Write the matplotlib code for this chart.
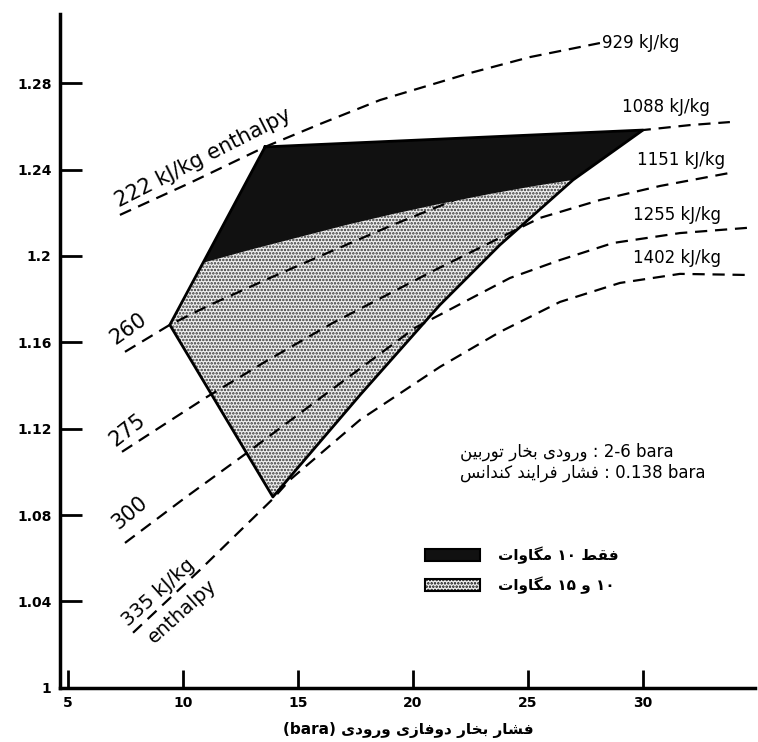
import numpy as np
from matplotlib import pyplot as plt
from matplotlib.patches import Rectangle

# axis ticks
x_ticks = [5, 10, 15, 20, 25, 30]
x_tick_labels = ["5", "10", "15", "20", "25", "30"]
y_ticks = [1.0, 1.04, 1.08, 1.12, 1.16, 1.2, 1.24, 1.28]
y_tick_labels = ["1", "1.04", "1.08", "1.12", "1.16", "1.2", "1.24", "1.28"]

# dashed curves
curve_929_x = [7.26, 10.30, 13.57, 15.96, 18.57, 22.48, 25.09, 28.13]
curve_929_y = [1.2190, 1.2338, 1.2505, 1.2611, 1.2722, 1.2847, 1.2921, 1.2986]
curve_1088_x = [7.48, 9.43, 11.17, 13.78, 16.39, 19.13, 22.04, 25.52, 28.13, 30.00, 32.04, 33.78]
curve_1088_y = [1.1556, 1.1681, 1.1773, 1.1898, 1.2019, 1.2144, 1.2269, 1.2407, 1.2505, 1.2583, 1.2606, 1.2620]
curve_1151_x = [7.35, 9.22, 11.04, 13.78, 16.52, 20.96, 25.52, 28.13, 30.74, 34.00]
curve_1151_y = [1.1093, 1.1222, 1.1347, 1.1523, 1.1690, 1.1935, 1.2176, 1.2259, 1.2324, 1.2389]
curve_1255_x = [7.48, 10.09, 12.78, 16.39, 20.09, 22.48, 24.22, 26.39, 28.70, 31.61, 34.52]
curve_1255_y = [1.0671, 1.0880, 1.1088, 1.1375, 1.1667, 1.1801, 1.1898, 1.1981, 1.2060, 1.2106, 1.2130]
curve_1402_x = [7.83, 10.74, 13.91, 14.65, 17.70, 21.17, 23.78, 26.39, 29.00, 31.61, 34.52]
curve_1402_y = [1.0255, 1.0546, 1.0875, 1.0963, 1.1241, 1.1486, 1.1648, 1.1787, 1.1875, 1.1917, 1.1912]
curve_labels = ["929 kJ/kg", "1088 kJ/kg", "1151 kJ/kg", "1255 kJ/kg", "1402 kJ/kg"]
curve_label_x = [28.2, 29.1, 29.75, 29.55, 29.55]
curve_label_y = [1.2986, 1.2690, 1.2444, 1.2190, 1.1990]

# regions
only10_x = [13.57, 30.00, 26.96, 25.30, 23.35, 21.17, 19.13, 17.13, 15.09, 12.91, 10.87]
only10_y = [1.2505, 1.2583, 1.2352, 1.2324, 1.2287, 1.2241, 1.2194, 1.2144, 1.2088, 1.2028, 1.1968]
both_x = [10.87, 12.91, 15.09, 17.13, 19.13, 21.17, 23.35, 25.30, 26.96, 23.78, 21.17, 17.70, 13.91, 9.43]
both_y = [1.1968, 1.2028, 1.2088, 1.2144, 1.2194, 1.2241, 1.2287, 1.2324, 1.2352, 1.2051, 1.1773, 1.1356, 1.0884, 1.1681]

# simple persian shaping (matplotlib has no complex text layout)
FORMS = {
    'ا': (0xFE8D, 0xFE8E), 'ب': (0xFE8F, 0xFE90, 0xFE91, 0xFE92),
    'ت': (0xFE95, 0xFE96, 0xFE97, 0xFE98), 'خ': (0xFEA5, 0xFEA6, 0xFEA7, 0xFEA8),
    'د': (0xFEA9, 0xFEAA), 'ر': (0xFEAD, 0xFEAE), 'ز': (0xFEAF, 0xFEB0),
    'س': (0xFEB1, 0xFEB2, 0xFEB3, 0xFEB4), 'ش': (0xFEB5, 0xFEB6, 0xFEB7, 0xFEB8),
    'ط': (0xFEC1, 0xFEC2, 0xFEC3, 0xFEC4), 'ف': (0xFED1, 0xFED2, 0xFED3, 0xFED4),
    'ق': (0xFED5, 0xFED6, 0xFED7, 0xFED8), 'م': (0xFEE1, 0xFEE2, 0xFEE3, 0xFEE4),
    'ن': (0xFEE5, 0xFEE6, 0xFEE7, 0xFEE8), 'و': (0xFEED, 0xFEEE),
    'ی': (0xFBFC, 0xFBFD, 0xFBFE, 0xFBFF), 'ک': (0xFB8E, 0xFB8F, 0xFB90, 0xFB91),
    'گ': (0xFB92, 0xFB93, 0xFB94, 0xFB95),
}


def shape_word(w):
    out = []
    for i, ch in enumerate(w):
        if ch not in FORMS:
            out.append(ch)
            continue
        f = FORMS[ch]
        prev = w[i - 1] if i > 0 else None
        nxt = w[i + 1] if i + 1 < len(w) else None
        jp = prev in FORMS and len(FORMS[prev]) == 4
        jn = nxt in FORMS and len(f) == 4
        if jp and jn:
            c = f[3]
        elif jp:
            c = f[1]
        elif jn:
            c = f[2]
        else:
            c = f[0]
        out.append(chr(c))
    return ''.join(reversed(out))


def fa(text):
    words = text.split(' ')
    return ' '.join(shape_word(w) if any(c in FORMS for c in w) else w for w in reversed(words))


plt.rcParams['font.family'] = ['DejaVu Sans']
plt.rcParams['hatch.linewidth'] = 1.2

fig = plt.figure(figsize=(7.58, 7.42), dpi=100)
ax = fig.add_axes([0.079, 0.073, 0.917, 0.908])
ax.set_xlim(4.65, 34.87)
ax.set_ylim(1.0, 1.312)

ax.fill(both_x, both_y, facecolor='#f0f0f0', edgecolor='#333333', hatch='.....', linewidth=0, zorder=1)

dash = (0, (5.5, 3.5))
for cx, cy in [(curve_929_x, curve_929_y), (curve_1088_x, curve_1088_y), (curve_1151_x, curve_1151_y),
               (curve_1255_x, curve_1255_y), (curve_1402_x, curve_1402_y)]:
    ax.plot(cx, cy, color='black', linestyle=dash, linewidth=1.6, zorder=2)

ax.fill(only10_x, only10_y, facecolor='#111111', edgecolor='none', zorder=3)

# outline of the whole operating region
outline_x = [13.57, 30.00, 26.96, 23.78, 21.17, 17.70, 13.91, 9.43, 13.57]
outline_y = [1.2505, 1.2583, 1.2352, 1.2051, 1.1773, 1.1356, 1.0884, 1.1681, 1.2505]
ax.plot(outline_x, outline_y, color='black', linewidth=2.0, zorder=4)

for lab, lx, ly in zip(curve_labels, curve_label_x, curve_label_y):
    ax.text(lx, ly, lab, fontsize=12, ha='left', va='center')

ax.text(10.87, 1.2455, "222 kJ/kg enthalpy", fontsize=15, rotation=27, ha='center', va='center',
        rotation_mode='anchor')
ax.text(7.65, 1.1662, "260", fontsize=15, rotation=35, ha='center', va='center', rotation_mode='anchor')
ax.text(7.57, 1.1194, "275", fontsize=15, rotation=38, ha='center', va='center', rotation_mode='anchor')
ax.text(7.70, 1.0810, "300", fontsize=15, rotation=40, ha='center', va='center', rotation_mode='anchor')
ax.text(8.95, 1.0440, "335 kJ/kg", fontsize=14, rotation=42, ha='center', va='center', rotation_mode='anchor')
ax.text(9.96, 1.0356, "enthalpy", fontsize=14, rotation=42, ha='center', va='center', rotation_mode='anchor')

ax.text(0.576, 0.350, fa("ورودی بخار توربین") + " : 2-6 bara", transform=ax.transAxes,
        fontsize=12, ha='left', va='center')
ax.text(0.576, 0.319, fa("فشار فرایند کندانس") + " : 0.138 bara", transform=ax.transAxes,
        fontsize=12, ha='left', va='center')

# legend
ax.add_patch(Rectangle((0.525, 0.188), 0.079, 0.018, transform=ax.transAxes, facecolor='#111111',
                       edgecolor='black', linewidth=1.5))
ax.add_patch(Rectangle((0.525, 0.143), 0.079, 0.018, transform=ax.transAxes, facecolor='#f0f0f0',
                       edgecolor='black', hatch='.....', linewidth=1.5))
ax.text(0.630, 0.197, fa("فقط ۱۰ مگاوات"), transform=ax.transAxes, fontsize=11, fontweight='bold',
        ha='left', va='center')
ax.text(0.630, 0.152, fa("۱۰ و ۱۵ مگاوات"), transform=ax.transAxes, fontsize=11, fontweight='bold',
        ha='left', va='center')

ax.set_xticks(x_ticks)
ax.set_xticklabels(x_tick_labels, fontsize=10, fontweight='bold')
ax.set_yticks(y_ticks)
ax.set_yticklabels(y_tick_labels, fontsize=10, fontweight='bold')
ax.tick_params(axis='y', direction='in', length=16, width=2, pad=6)
ax.tick_params(axis='x', direction='in', length=13, width=2, pad=6)

for s in ['top', 'right']:
    ax.spines[s].set_visible(False)
for s in ['left', 'bottom']:
    ax.spines[s].set_linewidth(2.5)

fig.text(408 / 758, 1 - 730 / 742, fa("فشار بخار دوفازی ورودی (bara)"), fontsize=11, fontweight='bold',
         ha='center', va='center')

fig.savefig("out.png", dpi=100)
